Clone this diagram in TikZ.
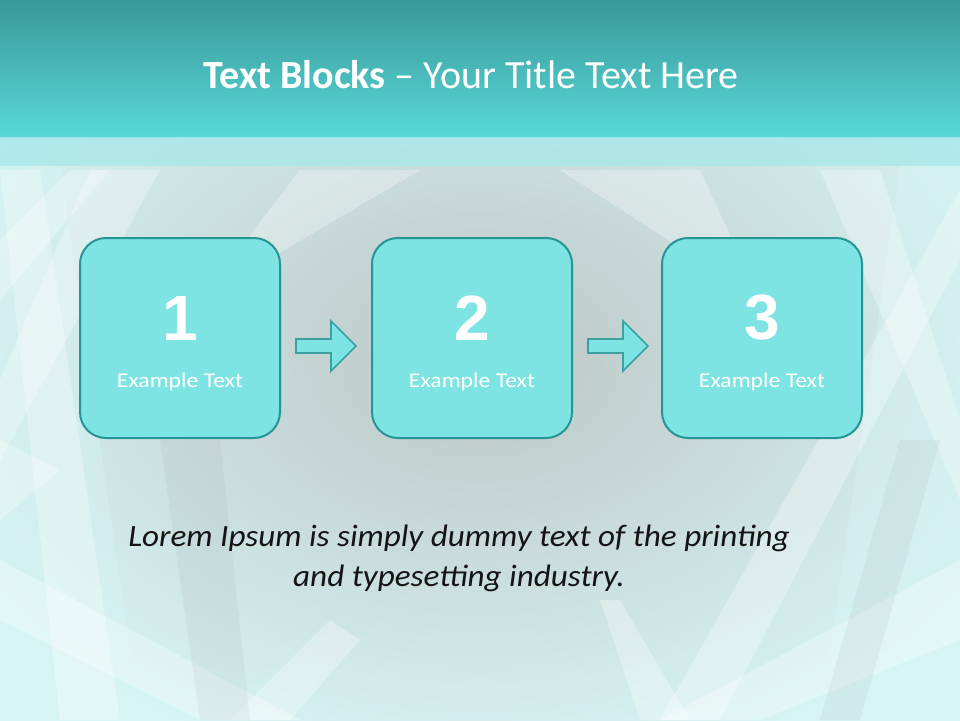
\documentclass[tikz,border=0pt]{standalone}
\usepackage{fontspec}
\setmainfont{Carlito}
\newfontfamily\numfont{Liberation Sans}
\newfontfamily\widea[FakeStretch=1.13]{Carlito}
\newfontfamily\wideb[FakeStretch=1.07]{Carlito}
\definecolor{bandtop}{RGB}{58,152,152}
\definecolor{bandbot}{RGB}{88,216,216}
\definecolor{strip}{RGB}{168,232,234}
\definecolor{bgcenter}{RGB}{190,198,198}
\definecolor{bgmid}{RGB}{200,210,210}
\definecolor{bgedge}{RGB}{214,244,244}
\definecolor{boxfill}{RGB}{125,227,227}
\definecolor{boxline}{RGB}{38,148,148}
\definecolor{arrline}{RGB}{58,160,160}
\definecolor{loremc}{RGB}{20,20,20}
\tikzset{
  stepbox/.style={draw=boxline, line width=2pt, fill=boxfill, rounded corners=26pt,
    minimum width=200pt, minimum height=200pt, inner sep=0pt},
  numtxt/.style={font=\numfont\bfseries\fontsize{64}{64}\selectfont, text=white},
  exlabel/.style={font=\widea\fontsize{21}{24}\selectfont, text=white},
  flowarrow/.style={fill=boxfill, draw=arrline, line width=1.6pt},
  streak/.style={fill=white, opacity=0.3, draw=none},
  cstreak/.style={fill=bgedge, opacity=0.45, draw=none},
  gstreak/.style={fill=gray, opacity=0.08, draw=none}
}
\begin{document}
\begin{tikzpicture}[x=1pt,y=-1pt]
\useasboundingbox (0,0) rectangle (960,720);
% background
\fill[bgmid] (0,0) rectangle (960,720);
\shade[inner color=bgcenter, outer color=bgedge] (-120,-60) rectangle (1080,780);
% edge streaks
\fill[cstreak] (0,166) -- (60,166) -- (140,720) -- (0,720) -- cycle;
\fill[cstreak] (960,166) -- (900,166) -- (820,720) -- (960,720) -- cycle;
\fill[streak] (0,170) -- (40,170) -- (120,720) -- (60,720) -- cycle;
\fill[streak] (90,170) -- (160,170) -- (0,460) -- (0,380) -- cycle;
\fill[streak] (960,190) -- (960,260) -- (720,720) -- (660,720) -- cycle;
\fill[streak] (820,170) -- (880,170) -- (960,420) -- (960,500) -- cycle;
\fill[streak] (0,560) -- (300,720) -- (200,720) -- (0,620) -- cycle;
\fill[streak] (960,560) -- (960,640) -- (760,720) -- (660,720) -- cycle;
\fill[streak] (300,170) -- (420,170) -- (200,300) -- cycle;
\fill[streak] (560,170) -- (700,170) -- (760,300) -- cycle;
\fill[streak] (0,240) -- (70,170) -- (110,170) -- (0,300) -- cycle;
\fill[streak] (230,720) -- (330,620) -- (360,640) -- (290,720) -- cycle;
\fill[streak] (640,720) -- (600,600) -- (620,600) -- (690,720) -- cycle;
\fill[streak] (0,440) -- (60,470) -- (0,520) -- cycle;
\fill[gstreak] (160,440) -- (220,440) -- (250,720) -- (200,720) -- cycle;
\fill[gstreak] (900,440) -- (940,440) -- (860,720) -- (820,720) -- cycle;
% title band
\shade[top color=bandtop, bottom color=bandbot] (0,0) rectangle (960,137);
\fill[strip, opacity=0.8] (0,137) rectangle (960,166);
\node[text=white, font=\fontsize{40}{44}\selectfont] (title) at (471,75)
  {\textbf{Text Blocks} – Your Title Text Here};
% boxes
\node[stepbox] (b1) at (180,338) {};
\node[stepbox] (b2) at (472,338) {};
\node[stepbox] (b3) at (762,338) {};
\foreach \b/\n in {b1/1,b2/2,b3/3}{
  \node[numtxt] (\b n) at ([yshift=20pt]\b.center) {\n};
  \node[exlabel] (\b t) at ([yshift=-44pt]\b.center) {Example Text};
}
% arrows
\coordinate (a1s) at ([xshift=15pt,yshift=-8pt]b1.east);
\coordinate (a2s) at ([xshift=15pt,yshift=-8pt]b2.east);
\foreach \s in {a1s,a2s}{
  \draw[flowarrow] (\s) ++(0,-7) -- ++(35,0) -- ++(0,-18) -- ++(25,25)
    -- ++(-25,25) -- ++(0,-18) -- ++(-35,0) -- cycle;
}
% lorem
\node[text=loremc, font=\wideb\itshape\fontsize{31}{40}\selectfont, align=center] (lorem) at (459,558)
  {Lorem Ipsum is simply dummy text of the printing\\and typesetting industry.};
\end{tikzpicture}
\end{document}
